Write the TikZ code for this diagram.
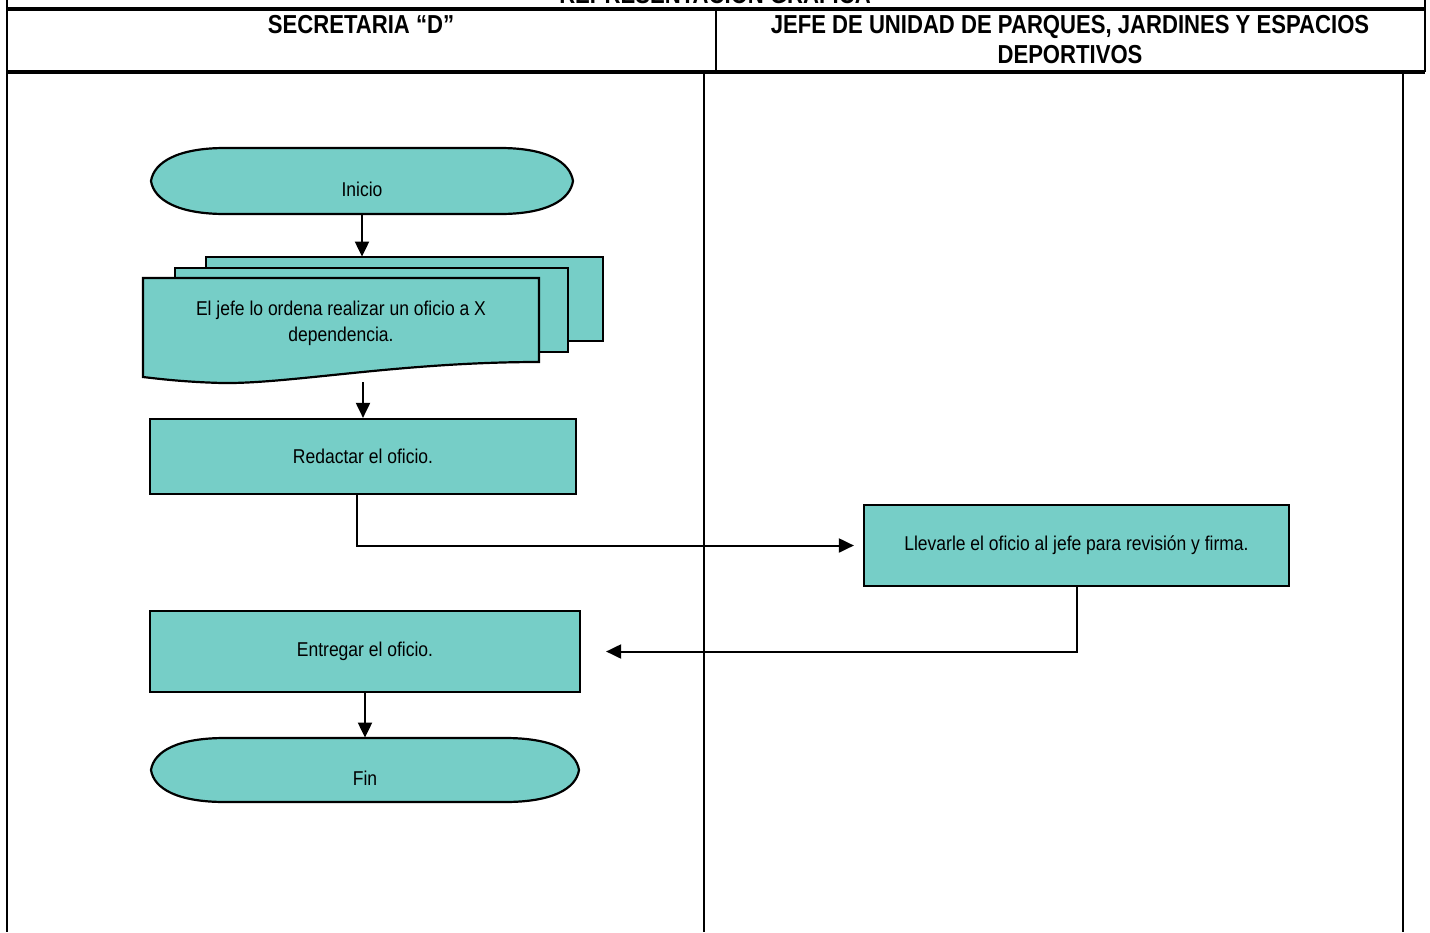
\documentclass[tikz,border=0pt]{standalone}
\usepackage{fontspec}
\setmainfont{Liberation Sans}
\newfontfamily\bodyfont[FakeStretch=0.875]{Liberation Sans}
\newfontfamily\headfont[FakeStretch=0.85]{Liberation Sans}
\usetikzlibrary{arrows.meta,calc}
\definecolor{tealfill}{RGB}{118,206,199}
\begin{document}
\begin{tikzpicture}[x=0.5pt,y=-0.5pt,
  shapeline/.style={draw=black,line width=1.1pt,fill=tealfill},
  proc/.style={shapeline,rectangle,inner sep=0pt,font=\bodyfont\fontsize{10}{13}\selectfont,align=center},
  frame/.style={draw=none,rectangle,inner sep=0pt,font=\bodyfont\fontsize{10}{13}\selectfont,align=center},
  termtext/.style={frame,text height=15pt,text depth=0pt},
  conn/.style={draw=black,line width=1pt},
  arr/.style={conn,-{Triangle[length=7.5pt,width=7pt]}},
  thickrule/.style={line width=1.6pt},
  thinrule/.style={line width=1pt},
  headtext/.style={font=\headfont\bfseries\fontsize{13}{15}\selectfont,align=center,inner sep=0pt}
]
\useasboundingbox (0,0) rectangle (1430,932);
\fill[white] (0,0) rectangle (1430,932);

% ----- table frame -----
\node[headtext,anchor=base] (title) at (715,3) {REPRESENTACIÓN GRÁFICA};
\draw[thickrule] (7,9) -- (1425,9);
\draw[thickrule] (7,72) -- (1425,72);
\draw[thinrule] (7,0) -- (7,932);
\draw[thinrule] (1425,0) -- (1425,72);
\draw[thinrule] (716,9) -- (716,72);
\draw[thinrule] (704,72) -- (704,932);
\draw[thinrule] (1403,72) -- (1403,932);
\node[headtext] (lane1) at (361,25) {SECRETARIA “D”};
\node[headtext] (lane2) at (1070,40) {JEFE DE UNIDAD DE PARQUES, JARDINES Y ESPACIOS\\DEPORTIVOS};

% ----- Inicio terminator -----
\draw[shapeline] (151,181) .. controls (154,162) and (178,148) .. (225,148) -- (500,148)
  .. controls (547,148) and (570,162) .. (573,181)
  .. controls (570,200) and (547,214) .. (500,214) -- (225,214)
  .. controls (178,214) and (154,200) .. (151,181) -- cycle;
\node[termtext,minimum width=211pt,minimum height=33pt] (ini) at (362,181) {Inicio};

% ----- multi-document -----
\draw[shapeline] (206,257) rectangle (603,341);
\draw[shapeline] (175,268) rectangle (568,352);
\draw[shapeline] (143,278) -- (539,278) -- (539,362)
  .. controls (400,362) and (290,384) .. (222,383)
  .. controls (185,382) and (160,379) .. (143,377) -- cycle;
\node[frame,minimum width=230pt,minimum height=62.5pt] (doc) at (373,319.5) {};
\node[frame] (doctext) at (341,323) {El jefe lo ordena realizar un oficio a X\\dependencia.};

% ----- process boxes -----
\node[proc,minimum width=213pt,minimum height=37.5pt] (red) at (363,456.5) {Redactar el oficio.};
\node[proc,minimum width=212.5pt,minimum height=40.5pt] (llev) at (1076.5,545.5) {Llevarle el oficio al jefe para revisión y firma.};
\node[proc,minimum width=215pt,minimum height=40.5pt] (ent) at (365,651.5) {Entregar el oficio.};

% ----- Fin terminator -----
\draw[shapeline] (151,770) .. controls (154,751) and (178,738) .. (225,738) -- (505,738)
  .. controls (552,738) and (576,751) .. (579,770)
  .. controls (576,789) and (552,802) .. (505,802) -- (225,802)
  .. controls (178,802) and (154,789) .. (151,770) -- cycle;
\node[termtext,minimum width=214pt,minimum height=32pt] (fin) at (365,770) {Fin};

% ----- connectors -----
\draw[arr] (ini.south) -- (ini.south |- doc.north);
\draw[arr] (red.north |- doc.south) -- (red.north);
\draw[arr,shorten >=4.5pt] ([xshift=-3pt]red.south) |- (llev.west);
\draw[arr,shorten >=12.5pt] (llev.south) |- (ent.east);
\draw[arr] (ent.south) -- (fin.north);
\end{tikzpicture}
\end{document}
